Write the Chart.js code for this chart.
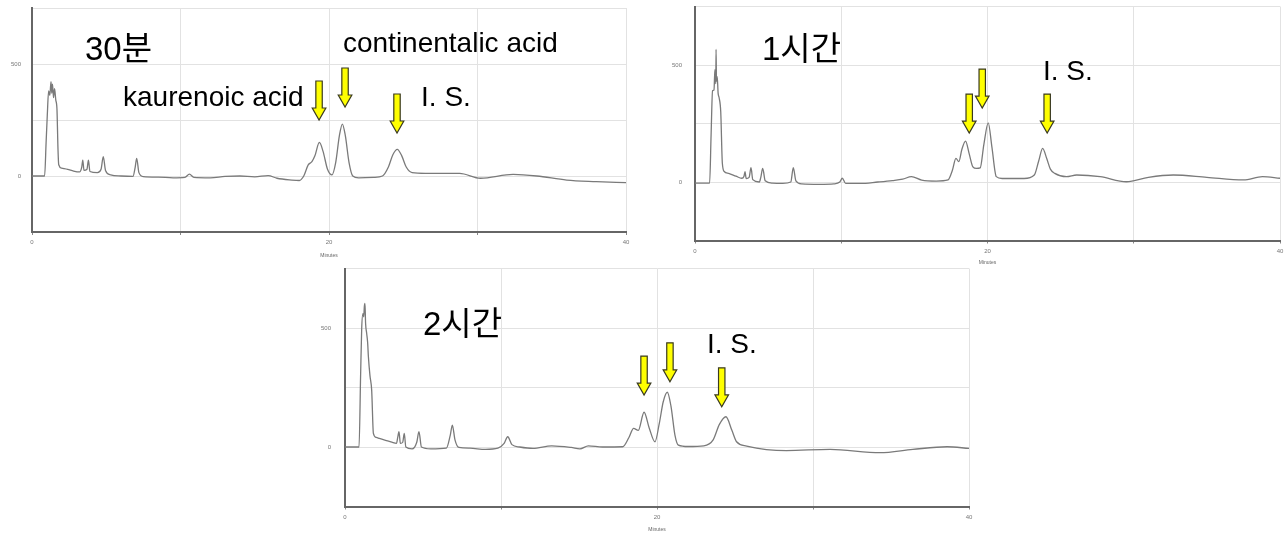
<!DOCTYPE html>
<html><head><meta charset="utf-8">
<script src="https://cdn.jsdelivr.net/npm/chart.js@4/dist/chart.umd.min.js"></script>
<style>
html,body{margin:0;padding:0;background:#fff;width:1288px;height:535px;overflow:hidden;}
canvas{position:absolute;display:block;}
</style></head><body>
<canvas id="c1" width="640" height="262" style="left:0;top:0"></canvas>
<canvas id="c2" width="628" height="266" style="left:660px;top:0"></canvas>
<canvas id="c3" width="690" height="275" style="left:300px;top:260px"></canvas>
<script>
// ---- data (minutes, detector response) ----
const time30 = [0,0.85,0.95,1.03,1.12,1.2,1.28,1.33,1.38,1.45,1.52,1.6,1.68,1.75,1.8,2.0,2.4,2.8,3.2,3.35,3.42,3.5,3.7,3.8,3.9,4.4,4.65,4.8,4.95,5.3,6.0,6.8,6.95,7.05,7.2,7.5,8.5,9.5,10.3,10.6,10.9,12,13,14,15,15.9,16.5,17.5,18.0,18.3,18.6,18.85,19.05,19.35,19.6,19.9,20.2,20.45,20.7,20.9,21.1,21.35,21.6,22,23,23.6,24.0,24.3,24.6,24.9,25.2,25.6,26.5,28.8,30.2,32.4,34,36,38,40];
const signal30 = [0,0,150,272,380,360,421,370,410,350,390,340,300,120,50,35,30,22,18,40,71,25,30,71,20,15,30,86,25,5,0,-2,40,79,15,-3,-5,-8,-6,8,-6,-8,-2,0,-4,2,-10,-18,-20,0,50,64,90,150,110,30,5,60,180,232,180,60,0,-8,-6,0,40,95,119,90,40,15,12,12,-10,7,0,-18,-25,-30];

const time1h = [0,1.0,1.1,1.2,1.3,1.36,1.42,1.44,1.47,1.52,1.58,1.65,1.76,1.87,2.0,2.3,2.8,3.2,3.35,3.42,3.5,3.7,3.83,3.95,4.4,4.5,4.63,4.8,5.3,6.0,6.55,6.72,6.9,7.3,8.5,9.5,9.9,10.07,10.3,11.3,12.5,13.5,14.2,14.8,15.5,16.5,17.3,17.6,17.84,18.04,18.25,18.5,18.75,19.0,19.25,19.5,19.75,20.05,20.3,20.6,21.0,22.5,23.2,23.5,23.77,24.05,24.3,24.6,25.4,26.1,27.7,29.5,31,32.7,35,37.5,38.8,40];
const signal1h = [-5,-5,200,390,393,480,420,567,430,450,380,360,300,80,45,37,25,16,25,44,15,20,61,10,0,20,58,5,-5,-6,0,61,5,-8,-10,-8,0,16,-6,-6,0,6,12,23,8,4,9,50,101,87,140,175,120,65,58,60,160,253,150,23,15,15,30,90,144,100,55,37,23,30,23,1,20,30,20,9,23,16];

const time2h = [0,0.9,1.0,1.07,1.15,1.2,1.24,1.28,1.32,1.39,1.45,1.5,1.6,1.71,1.82,2.0,2.2,2.6,3.0,3.3,3.38,3.46,3.55,3.7,3.8,3.9,4.3,4.6,4.74,4.9,5.5,6.5,6.75,6.88,7.05,7.3,8,9,9.8,10.2,10.43,10.7,11.2,12.05,13.25,14.5,15.06,15.6,16.5,17.8,18.2,18.5,18.8,19.17,19.5,19.87,20.15,20.4,20.66,20.9,21.15,21.37,22,23.0,23.6,24.0,24.42,24.8,25.1,25.75,28.3,31.1,34.3,36.4,38.6,40];
const signal2h = [0,0,300,497,560,547,590,603,520,477,440,379,300,239,57,40,36,28,20,15,40,64,15,20,57,0,-8,20,64,0,-8,-5,50,92,30,-2,-5,-10,-5,15,43,10,0,-6,5,-2,-8,5,0,1,40,78,70,146,80,22,100,190,230,170,50,8,2,5,30,95,127,70,22,4,-15,-10,-24,-10,1,-6];

const xTickLabels = [0, 20, 40];
const yTickLabels = [0, 500];
const panelTitles = ['30분', '1시간', '2시간'];
const compoundNames = ['kaurenoic acid', 'continentalic acid', 'I. S.'];

// ---- annotation placement (data coordinates) ----
const KFONT = '33px "Liberation Sans", "Noto Sans CJK KR", sans-serif';
const EFONT = '28px "Liberation Sans", Arial, sans-serif';
const notes = [
  { texts: [
      {text: panelTitles[0], t: 3.57, v: 518, font: KFONT},
      {text: compoundNames[0], t: 6.13, v: 312, font: EFONT},
      {text: compoundNames[1], t: 20.94, v: 553, font: EFONT},
      {text: compoundNames[2], t: 26.2, v: 312, font: EFONT}],
    arrows: [{t: 19.33, v: 250}, {t: 21.08, v: 308}, {t: 24.58, v: 192}] },
  { texts: [
      {text: panelTitles[1], t: 4.58, v: 521, font: KFONT},
      {text: compoundNames[2], t: 23.79, v: 436, font: EFONT}],
    arrows: [{t: 18.75, v: 209}, {t: 19.64, v: 316}, {t: 24.08, v: 209}] },
  { texts: [
      {text: panelTitles[2], t: 5.0, v: 470, font: KFONT},
      {text: compoundNames[2], t: 23.2, v: 396, font: EFONT}],
    arrows: [{t: 19.17, v: 218}, {t: 20.83, v: 274}, {t: 24.15, v: 169}] }
];

function drawArrow(ctx, px, py) {
  const L = 39, sw = 3.2, hw = 6.8, hl = 12;
  ctx.beginPath();
  ctx.moveTo(px - sw, py - L);
  ctx.lineTo(px + sw, py - L);
  ctx.lineTo(px + sw, py - hl);
  ctx.lineTo(px + hw, py - hl);
  ctx.lineTo(px, py);
  ctx.lineTo(px - hw, py - hl);
  ctx.lineTo(px - sw, py - hl);
  ctx.closePath();
  ctx.fillStyle = '#ffff00';
  ctx.fill();
  ctx.lineWidth = 1.2;
  ctx.strokeStyle = '#3a3a20';
  ctx.stroke();
}

const annotPlugin = {
  id: 'annot',
  afterDatasetsDraw(chart, args, opts) {
    const {ctx} = chart; const x = chart.scales.x, y = chart.scales.y;
    ctx.save();
    (opts.texts || []).forEach(tx => {
      ctx.font = tx.font; ctx.fillStyle = '#000';
      ctx.textAlign = 'left'; ctx.textBaseline = 'alphabetic';
      ctx.fillText(tx.text, x.getPixelForValue(tx.t), y.getPixelForValue(tx.v));
    });
    (opts.arrows || []).forEach(a => drawArrow(ctx, x.getPixelForValue(a.t), y.getPixelForValue(a.v)));
    ctx.restore();
  }
};

function makeChart(id, times, signal, note, geo) {
  const pts = times.map((t, i) => ({x: t, y: signal[i]}));
  return new Chart(document.getElementById(id), {
    type: 'line',
    data: { datasets: [{ data: pts, borderColor: '#7a7a7a', borderWidth: 1.3, pointRadius: 0,
      fill: false, cubicInterpolationMode: 'monotone' }] },
    plugins: [annotPlugin],
    options: {
      responsive: false, animation: false, devicePixelRatio: 1,
      layout: { padding: { top: geo.top, right: geo.right, left: 0, bottom: 0 } },
      plugins: { legend: {display: false}, tooltip: {enabled: false}, annot: note },
      scales: {
        x: { type: 'linear', min: 0, max: 40,
          ticks: { stepSize: 10, autoSkip: false, maxRotation: 0, color: '#777', padding: 4,
            font: {size: 6, family: 'Liberation Sans'},
            callback: v => xTickLabels.includes(v) ? String(v) : '' },
          grid: { color: '#e2e2e2', tickLength: 3, tickColor: '#888', lineWidth: 1 },
          border: { color: '#666', width: 2 },
          title: { display: true, text: 'Minutes', color: '#666', font: {size: 5, family: 'Liberation Sans'}, padding: {top: 0, bottom: geo.titlePad} },
          afterFit: s => { s.height = geo.xh; s.paddingLeft = 0; s.paddingRight = 0; s.paddingTop = 0; s.paddingBottom = 0; } },
        y: { min: -250, max: 750,
          ticks: { stepSize: 250, autoSkip: false, color: '#777', padding: geo.ypad,
            font: {size: 6, family: 'Liberation Sans'},
            callback: v => yTickLabels.includes(v) ? String(v) : '' },
          grid: { color: '#e2e2e2', drawTicks: false, lineWidth: 1 },
          border: { color: '#666', width: 2 },
          afterFit: s => { s.width = geo.yw; s.paddingTop = 0; s.paddingBottom = 0; s.paddingLeft = 0; s.paddingRight = 0; } }
      }
    }
  });
}

makeChart('c1', time30, signal30, notes[0], {top: 8, right: 14, xh: 30, yw: 32, ypad: 11, titlePad: 3});
makeChart('c2', time1h, signal1h, notes[1], {top: 6.5, right: 8, xh: 25.5, yw: 35, ypad: 13, titlePad: 0});
makeChart('c3', time2h, signal2h, notes[2], {top: 8.5, right: 21, xh: 28.5, yw: 45, ypad: 14, titlePad: 2});
</script>
</body></html>
